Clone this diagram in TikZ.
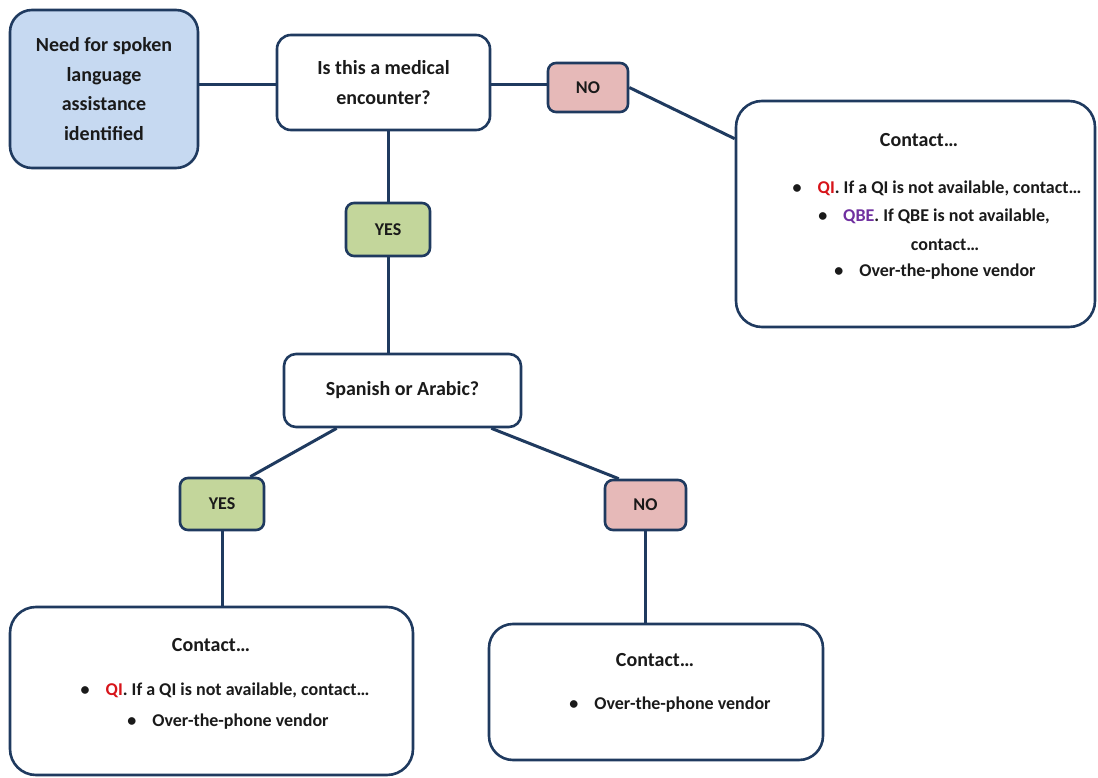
\documentclass[tikz,border=0pt]{standalone}
\usepackage{fontspec}
\setmainfont{Carlito}
\usetikzlibrary{backgrounds}
\definecolor{edgec}{HTML}{1F3A5F}
\definecolor{bluef}{HTML}{C6D9F1}
\definecolor{greenf}{HTML}{C3D69B}
\definecolor{pinkf}{HTML}{E6B9B8}
\definecolor{qired}{HTML}{D7141A}
\definecolor{qbepur}{HTML}{7030A0}
\definecolor{txtc}{HTML}{1A1A1A}
\begin{document}
\begin{tikzpicture}[x=1pt,y=-1pt,
  box/.style={draw=edgec, line width=2.6pt, fill=white, inner sep=0pt},
  bigtxt/.style={font=\bfseries\fontsize{20}{29.5}\selectfont, text=txtc, align=center},
  headtxt/.style={font=\bfseries\fontsize{20}{24}\selectfont, text=txtc},
  midtxt/.style={font=\bfseries\fontsize{18}{22}\selectfont, text=txtc},
  lbltxt/.style={font=\bfseries\fontsize{18}{20}\selectfont, text=txtc},
  conn/.style={draw=edgec, line width=3pt}]
\useasboundingbox (0,0) rectangle (1098,778);
% boxes
\node[box, fill=bluef, rounded corners=22pt, minimum width=188pt, minimum height=158pt, bigtxt] (start) at (104,89) {Need for spoken\\language\\assistance\\identified};
\node[box, rounded corners=14pt, minimum width=213pt, minimum height=95pt, bigtxt] (med) at (383.5,82.5) {Is this a medical\\encounter?};
\node[box, fill=pinkf, rounded corners=8pt, minimum width=80pt, minimum height=49pt, lbltxt] (no1) at (588,87.5) {NO};
\node[box, rounded corners=26pt, minimum width=359pt, minimum height=226pt] (rbox) at (915.5,214) {};
\node[box, fill=greenf, rounded corners=8pt, minimum width=84pt, minimum height=53pt, lbltxt] (yes1) at (388,229.5) {YES};
\node[box, rounded corners=12pt, minimum width=237pt, minimum height=73pt, bigtxt] (span) at (402.5,390.5) {Spanish or Arabic?};
\node[box, fill=greenf, rounded corners=8pt, minimum width=84pt, minimum height=52pt, lbltxt] (yes2) at (222,504) {YES};
\node[box, fill=pinkf, rounded corners=8pt, minimum width=81pt, minimum height=50pt, lbltxt] (no2) at (645.5,505) {NO};
\node[box, rounded corners=26pt, minimum width=403pt, minimum height=168pt] (lbox) at (211.5,691) {};
\node[box, rounded corners=24pt, minimum width=334pt, minimum height=136pt] (bbox) at (656,692) {};
% texts in right box
\node[headtxt] (r0) at (919,140) {Contact…};
\node[midtxt] (r1) at (937,188) {•\hspace{16pt}{\color{qired}QI}. If a QI is not available, contact…};
\node[midtxt] (r2) at (934,216) {•\hspace{16pt}{\color{qbepur}QBE}. If QBE is not available,};
\node[midtxt] (r3) at (945,245) {contact…};
\node[midtxt] (r4) at (935,272) {•\hspace{16pt}Over-the-phone vendor};
% texts in bottom-left box
\node[headtxt] (l0) at (211,645) {Contact…};
\node[midtxt] (l1) at (225,690) {•\hspace{16pt}{\color{qired}QI}. If a QI is not available, contact…};
\node[midtxt] (l2) at (228,722) {•\hspace{16pt}Over-the-phone vendor};
% texts in bottom-right box
\node[headtxt] (b0) at (655,660) {Contact…};
\node[midtxt] (b1) at (670,705) {•\hspace{16pt}Over-the-phone vendor};
% connectors
\begin{scope}[on background layer]
\draw[conn] ([yshift=4pt]start.east) -- ([yshift=-2.5pt]med.west);
\draw[conn] ([yshift=-2.5pt]med.east) -- ([yshift=2.5pt]no1.west);
\draw[conn] (no1.east) -- ([yshift=-39pt]rbox.north west);
\draw[conn] (yes1.north |- med.south) -- (yes1.north);
\draw[conn] (yes1.south) -- (yes1.south |- span.north);
\draw[conn] ([xshift=54pt]span.south west) -- ([xshift=-15pt]yes2.north east);
\draw[conn] ([xshift=-31pt]span.south east) -- ([xshift=15pt]no2.north west);
\draw[conn] (yes2.south) -- (yes2.south |- lbox.north);
\draw[conn] (no2.south) -- (no2.south |- bbox.north);
\end{scope}
\end{tikzpicture}
\end{document}
